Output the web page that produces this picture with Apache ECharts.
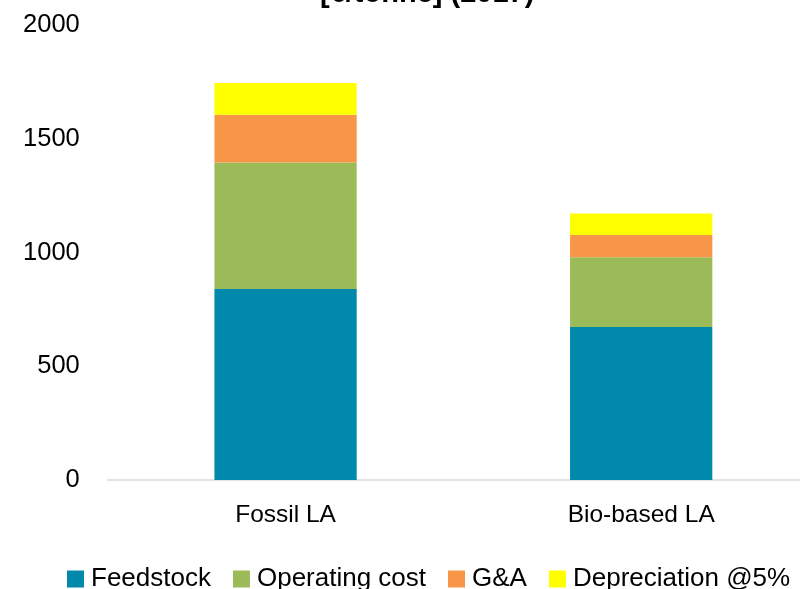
<!DOCTYPE html>
<html>
<head>
<meta charset="utf-8">
<script src="https://cdn.jsdelivr.net/npm/echarts@6/dist/echarts.min.js"></script>
<style>html,body{margin:0;padding:0;background:#fff;overflow:hidden;}#chart{width:819px;height:589px;}</style>
</head>
<body>
<div id="chart"></div>
<script>
const categories = ['Fossil LA', 'Bio-based LA'];
const seriesNames = ['Feedstock', 'Operating cost', 'G&A', 'Depreciation @5%'];
const feedstock = [840, 672];
const operatingCost = [556, 307];
const gAndA = [210, 98];
const depreciation = [139, 94];
const yTicks = [0, 500, 1000, 1500, 2000];
const titleText = '[€/tonne] (2017)';

const colors = ['#0089AB', '#9BBB59', '#F79646', '#FFFF00'];
const values = [feedstock, operatingCost, gAndA, depreciation];
const FONT = '"Liberation Sans", Arial, sans-serif';

const chart = echarts.init(document.getElementById('chart'));
chart.setOption({
  animation: false,
  color: colors,
  title: {
    text: titleText,
    left: 320,
    top: -21,
    padding: 0,
    textStyle: { fontFamily: FONT, fontSize: 29, fontWeight: 'bold', color: '#000' }
  },
  legend: {
    data: seriesNames,
    left: 62,
    top: 561,
    itemWidth: 17,
    itemHeight: 17,
    itemGap: 22,
    icon: 'rect',
    textStyle: { fontFamily: FONT, fontSize: 26, color: '#000', padding: [0, 0, 0, 2], lineHeight: 26 }
  },
  grid: { left: 107.75, right: 0, top: 25, bottom: 109, containLabel: false },
  xAxis: {
    type: 'category',
    data: categories,
    axisLine: { lineStyle: { color: '#D9D9D9', width: 1.5 } },
    axisTick: { show: false },
    axisLabel: { fontFamily: FONT, fontSize: 24.5, color: '#000', margin: 23 }
  },
  yAxis: {
    type: 'value',
    min: yTicks[0],
    max: yTicks[yTicks.length - 1],
    interval: yTicks[1] - yTicks[0],
    axisLine: { show: false },
    axisTick: { show: false },
    splitLine: { show: false },
    axisLabel: { fontFamily: FONT, fontSize: 25.5, color: '#000', margin: 28, formatter: v => String(v) }
  },
  series: seriesNames.map((name, i) => ({
    name: name,
    type: 'bar',
    stack: 'total',
    barWidth: '40%',
    data: values[i],
    itemStyle: { color: colors[i] }
  }))
});
</script>
</body>
</html>
